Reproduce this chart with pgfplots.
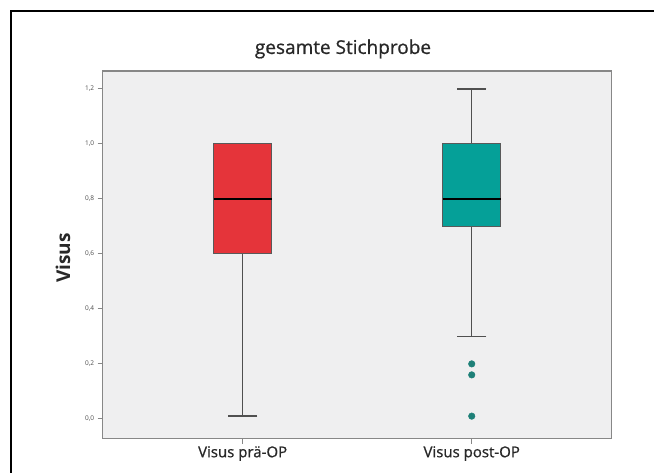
\documentclass[border=0pt]{standalone}
\usepackage{fontspec}
\setmainfont{Open Sans}
\newfontfamily\medfont[FakeBold=0.8]{Open Sans}
\usepackage{pgfplots}
\pgfplotsset{compat=1.18}
\usepgfplotslibrary{statistics}
\definecolor{redbox}{RGB}{229,52,58}
\definecolor{tealbox}{RGB}{5,160,152}
\definecolor{tealdot}{RGB}{30,128,120}
\definecolor{plotbg}{RGB}{239,239,240}
\definecolor{axgray}{RGB}{135,135,135}
\definecolor{whisk}{RGB}{80,80,80}
\definecolor{txt}{RGB}{40,40,40}
\begin{document}
\begin{tikzpicture}[x=1pt,y=1pt]
\useasboundingbox (0,0) rectangle (654,473);
\fill[white] (0,0) rectangle (654,473);
\draw[black, line width=1.2pt] (11,0) -- (11,462) -- (654,462);
\begin{axis}[at={(102.7pt,34.3pt)}, anchor=south west, scale only axis,
  width=509pt, height=367.7pt,
  xmin=0.389, xmax=2.611, ymin=-0.072, ymax=1.265,
  axis background/.style={fill=plotbg},
  axis line style={axgray, line width=1.3pt},
  xtick={1,2}, xticklabels={Visus prä-OP, Visus post-OP},
  ytick={0,0.2,0.4,0.6,0.8,1.0,1.2},
  /pgf/number format/assume math mode=true,
  yticklabel style={font=\fontsize{6.5}{7}\selectfont, text=black!70,
    /pgf/number format/.cd, use comma, fixed, fixed zerofill, precision=1},
  xticklabel style={font=\medfont\fontsize{15}{16}\selectfont, text=txt, yshift=1pt},
  tick align=outside, major tick length=5pt,
  tick style={axgray, line width=1pt},
  tick pos=left,
  boxplot/draw direction=y,
  boxplot/every box/.style={draw=black!65, line width=0.9pt},
  boxplot/every median/.style={black, line width=1.8pt},
  boxplot/every whisker/.style={whisk, line width=1.4pt},
]
\addplot[boxplot prepared={lower whisker=0.01, lower quartile=0.6, median=0.8,
  upper quartile=1.0, upper whisker=1.0, draw position=1,
  box extend=0.252, whisker extend=0.128},
  fill=redbox, draw=whisk] coordinates {};
\addplot[boxplot prepared={lower whisker=0.3, lower quartile=0.7, median=0.8,
  upper quartile=1.0, upper whisker=1.2, draw position=2,
  box extend=0.252, whisker extend=0.128},
  fill=tealbox, draw=whisk, mark=*,
  mark options={draw=tealdot, fill=tealdot, mark size=3.3pt}]
  table[row sep=\\, y index=0] {0.2\\0.16\\0.01\\};
\end{axis}
\node[font=\medfont\fontsize{19}{20}\selectfont, text=txt] at (343,424) {gesamte Stichprobe};
\node[rotate=90, font=\bfseries\fontsize{19}{22}\selectfont, text=txt] at (63,215) {Visus};
\end{tikzpicture}
\end{document}
